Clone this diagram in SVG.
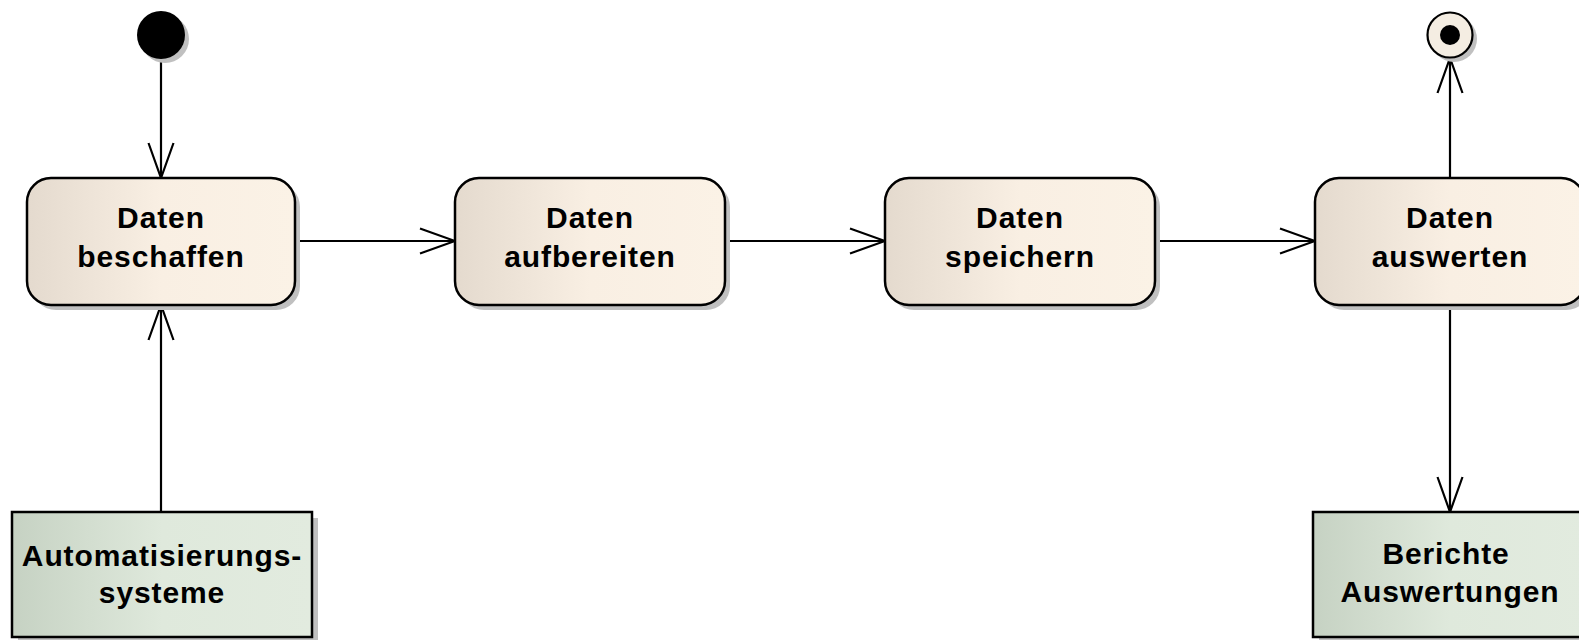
<svg xmlns="http://www.w3.org/2000/svg" width="1579" height="640" viewBox="0 0 1579 640">
<style>
.act{stroke:#000;stroke-width:2.5;fill:url(#gAct)}
.obj{stroke:#000;stroke-width:2.5;fill:url(#gObj)}
.shd{fill:#c0c0c0;stroke:none}
.lbl{font-family:"Liberation Sans",Arial,sans-serif;font-weight:bold;font-size:30px;letter-spacing:0.9px;fill:#000;text-anchor:middle}
.con{stroke:#000;stroke-width:2.2;fill:none}
</style>
<defs>
<linearGradient id="gAct" x1="0" y1="0" x2="1" y2="0">
<stop offset="0" stop-color="#e4dace"/>
<stop offset="0.5" stop-color="#f9efe3"/>
<stop offset="1" stop-color="#fbf2e6"/>
</linearGradient>
<linearGradient id="gObj" x1="0" y1="0" x2="1" y2="0">
<stop offset="0" stop-color="#c6d2c3"/>
<stop offset="0.5" stop-color="#dfe9dc"/>
<stop offset="1" stop-color="#e2ebdf"/>
</linearGradient>
<marker id="arr" viewBox="-38 -15 41 30" refX="0" refY="0" markerWidth="41" markerHeight="30" markerUnits="userSpaceOnUse" orient="auto">
<path d="M-35,-12.5 L0,0 L-35,12.5" fill="none" stroke="#000" stroke-width="2.2"/>
</marker>
</defs>
<rect width="1579" height="640" fill="#fff"/>

<g id="connectors">
<line class="con" x1="161" y1="58" x2="161" y2="178" marker-end="url(#arr)"/>
<line class="con" x1="295" y1="241" x2="455" y2="241" marker-end="url(#arr)"/>
<line class="con" x1="725" y1="241" x2="885" y2="241" marker-end="url(#arr)"/>
<line class="con" x1="1155" y1="241" x2="1315" y2="241" marker-end="url(#arr)"/>
<line class="con" x1="1450" y1="178" x2="1450" y2="58" marker-end="url(#arr)"/>
<line class="con" x1="1450" y1="305" x2="1450" y2="512" marker-end="url(#arr)"/>
<line class="con" x1="161" y1="512" x2="161" y2="305" marker-end="url(#arr)"/>
</g>

<g id="start">
<circle class="shd" cx="165" cy="39" r="24"/>
<circle cx="161" cy="35" r="24" fill="#000"/>
</g>

<g id="end">
<circle class="shd" cx="1454" cy="39" r="23"/>
<circle cx="1450" cy="35" r="22.5" fill="#f4ede2" stroke="#000" stroke-width="2.2"/>
<circle cx="1450" cy="35" r="10" fill="#000"/>
</g>

<g id="n1">
<rect class="shd" x="32" y="183" width="268" height="127" rx="24"/>
<rect class="act" x="27" y="178" width="268" height="127" rx="24"/>
<text class="lbl" x="161" y="228">Daten</text>
<text class="lbl" x="161" y="267">beschaffen</text>
</g>

<g id="n2">
<rect class="shd" x="460" y="183" width="270" height="127" rx="24"/>
<rect class="act" x="455" y="178" width="270" height="127" rx="24"/>
<text class="lbl" x="590" y="228">Daten</text>
<text class="lbl" x="590" y="267">aufbereiten</text>
</g>

<g id="n3">
<rect class="shd" x="890" y="183" width="270" height="127" rx="24"/>
<rect class="act" x="885" y="178" width="270" height="127" rx="24"/>
<text class="lbl" x="1020" y="228">Daten</text>
<text class="lbl" x="1020" y="267">speichern</text>
</g>

<g id="n4">
<rect class="shd" x="1320" y="183" width="270" height="127" rx="24"/>
<rect class="act" x="1315" y="178" width="270" height="127" rx="24"/>
<text class="lbl" x="1450" y="228">Daten</text>
<text class="lbl" x="1450" y="267">auswerten</text>
</g>

<g id="o1">
<rect class="shd" x="18" y="518" width="300" height="125"/>
<rect class="obj" x="12" y="512" width="300" height="125"/>
<text class="lbl" x="162" y="566">Automatisierungs-</text>
<text class="lbl" x="162" y="603">systeme</text>
</g>

<g id="o2">
<rect class="shd" x="1319" y="518" width="274" height="125"/>
<rect class="obj" x="1313" y="512" width="274" height="125"/>
<text class="lbl" x="1446" y="564">Berichte</text>
<text class="lbl" x="1450" y="602">Auswertungen</text>
</g>
</svg>
